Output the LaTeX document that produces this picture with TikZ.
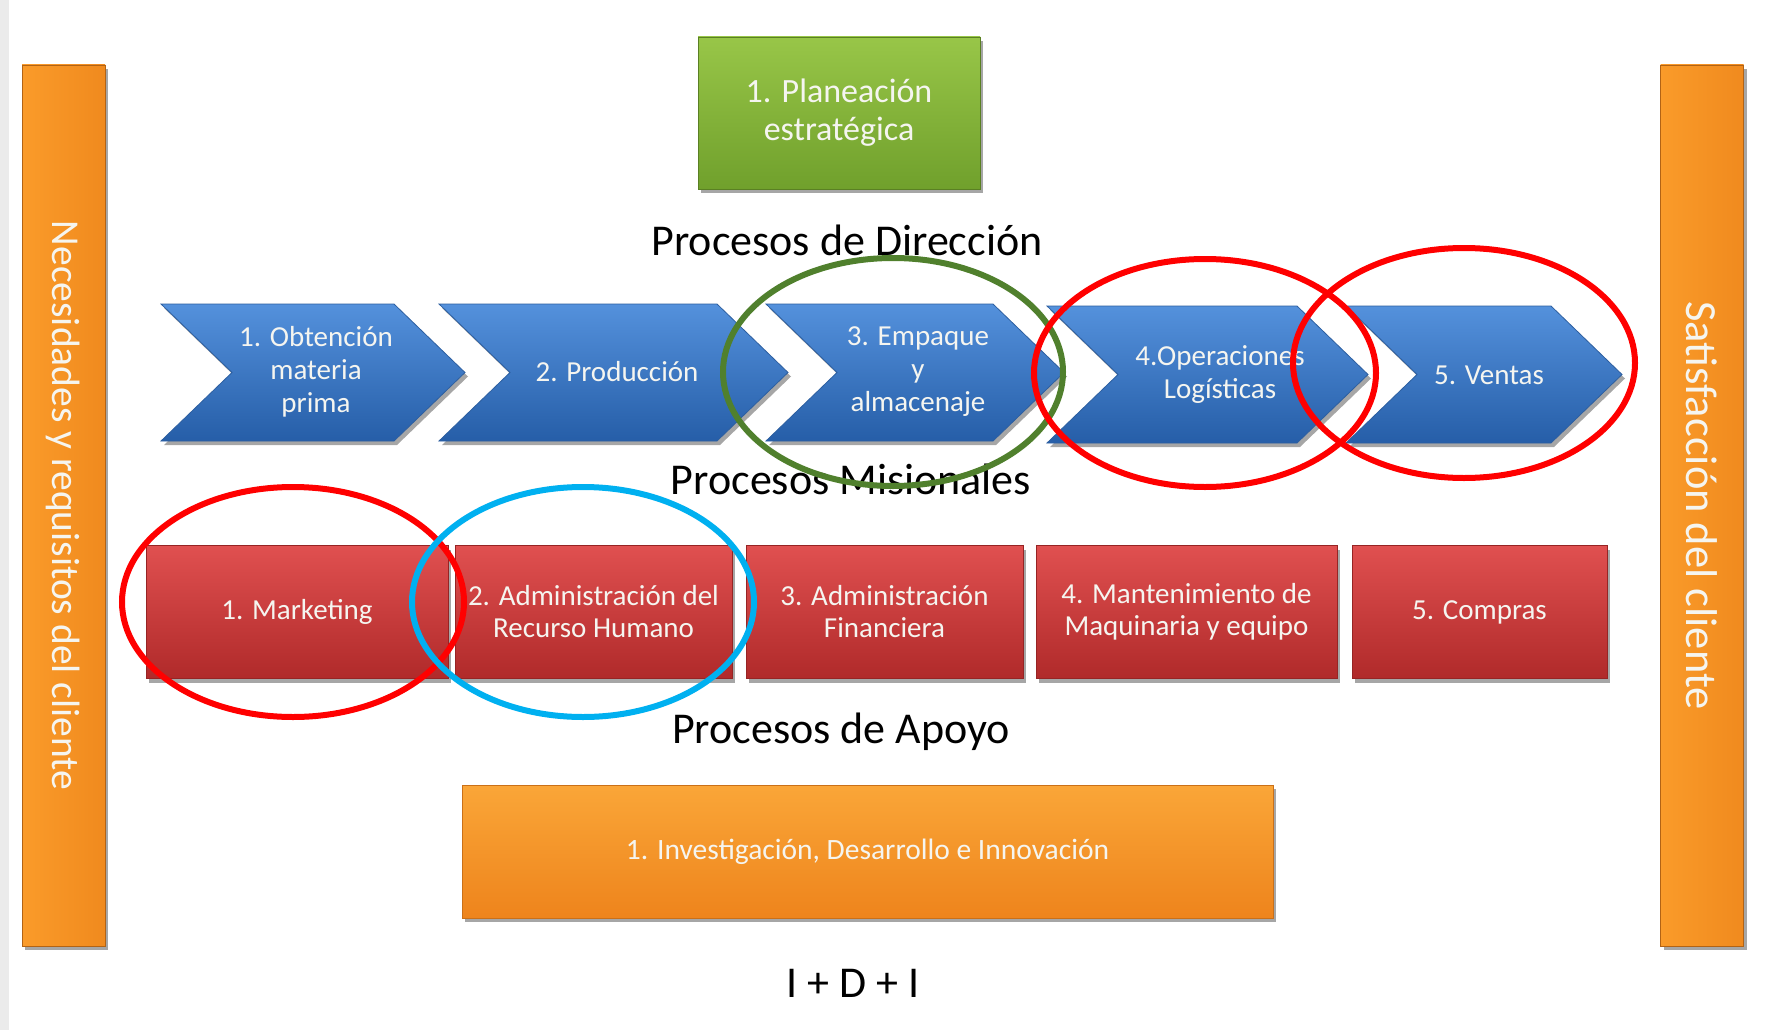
\documentclass[tikz,border=0pt]{standalone}
\usepackage{fontspec}
\setmainfont{Carlito}
\usetikzlibrary{shadows,calc}
\definecolor{chevtop}{RGB}{84,145,220}
\definecolor{chevbot}{RGB}{38,94,168}
\definecolor{chevline}{RGB}{45,95,160}
\definecolor{redtop}{RGB}{224,80,80}
\definecolor{redbot}{RGB}{176,42,42}
\definecolor{grntop}{RGB}{152,198,72}
\definecolor{grnbot}{RGB}{112,160,44}
\definecolor{orgtop}{RGB}{250,166,56}
\definecolor{orgbot}{RGB}{238,132,28}
\definecolor{sideleft}{RGB}{250,155,42}
\definecolor{sideright}{RGB}{240,138,30}
\definecolor{ringred}{RGB}{255,0,0}
\definecolor{ringgreen}{RGB}{80,128,45}
\definecolor{ringblue}{RGB}{0,176,240}
\definecolor{txtw}{RGB}{245,245,240}
\tikzset{
  shade/.style={drop shadow={shadow xshift=3pt,shadow yshift=-4pt,opacity=0.35,fill=black}},
  chevshape/.style={shade,top color=chevtop,bottom color=chevbot,draw=chevline,line width=0.8pt},
  chevtxt/.style={text=txtw,align=center,font=\fontsize{29}{33}\selectfont,inner sep=0pt},
  greenbox/.style={shade,top color=grntop,bottom color=grnbot,draw=grnbot!80!black,line width=0.8pt,
     text=txtw,align=center,font=\fontsize{34}{38}\selectfont,inner sep=0pt},
  redbox/.style={shade,top color=redtop,bottom color=redbot,draw=redbot!85!black,line width=0.8pt,
     text=txtw,align=center,font=\fontsize{29}{32}\selectfont,inner sep=0pt},
  orgbox/.style={shade,top color=orgtop,bottom color=orgbot,draw=orgbot!85!black,line width=0.8pt,
     text=txtw,align=center,font=\fontsize{29.5}{33}\selectfont,inner sep=0pt},
  sidebar/.style={shade,left color=sideleft,right color=sideright,draw=orgbot!75!black,line width=0.8pt,inner sep=0pt},
  sidetxt/.style={text=txtw,rotate=-90,inner sep=0pt},
  heading/.style={text=black,font=\fontsize{44}{50}\selectfont,inner sep=0pt},
  ring/.style={line width=6pt}
}
\begin{document}
\begin{tikzpicture}[x=1pt,y=-1pt]
\useasboundingbox (0,0) rectangle (1766,1030);
\fill[white] (0,0) rectangle (1766,1030);
\fill[black!8] (0,0) rectangle (9,1030);
% side bars
\node[sidebar,minimum width=83pt,minimum height=881pt] (lbar) at (63.5,505.5) {};
\node[sidetxt,font=\fontsize{39.5}{44}\selectfont] (ltxt) at (lbar.center) {Necesidades y requisitos del cliente};
\node[sidebar,minimum width=83pt,minimum height=881pt] (rbar) at (1702,505.5) {};
\node[sidetxt,font=\fontsize{44.5}{50}\selectfont] (rtxt) at (rbar.center) {Satisfacción del cliente};
% planning
\node[greenbox,minimum width=282pt,minimum height=152pt] (plan) at (839,113) {1. Planeación\\estratégica};
\node[heading] (hdir) at (847,240) {Procesos de Dirección};
% chevrons
\newcommand\chevpath[4]{%
  \path[chevshape] (#1,#3) -- ({#2-71},#3) -- (#2,{(#3+#4)/2}) -- ({#2-71},#4) -- (#1,#4) -- ({#1+71},{(#3+#4)/2}) -- cycle;}
\chevpath{161}{465}{304}{441}
\chevpath{439}{788}{304}{441}
\chevpath{766}{1064}{304}{441}
\chevpath{1047}{1368}{306}{443}
\chevpath{1346}{1622}{306}{443}
\node[chevtxt] (c1) at (316,372) {1. Obtención\\materia\\prima};
\node[chevtxt] (c2) at (617,372) {2. Producción};
\node[chevtxt] (c3) at (918,372) {3. Empaque\\y\\almacenaje};
\node[chevtxt] (c4) at (1220,375) {4.Operaciones\\Logísticas};
\node[chevtxt] (c5) at (1489,375) {5. Ventas};
\node[heading] (hmis) at (851,479) {Procesos Misionales};
% support boxes
\node[redbox,minimum width=302pt,minimum height=133pt] (r1) at (297,612) {1. Marketing};
\node[redbox,minimum width=277pt,minimum height=133pt] (r2) at (593.5,612) {2. Administración del\\Recurso Humano};
\node[redbox,minimum width=277pt,minimum height=133pt] (r3) at (884.5,612) {3. Administración\\Financiera};
\node[redbox,minimum width=301pt,minimum height=133pt] (r4) at (1186.5,612) {4. Mantenimiento de\\Maquinaria y equipo};
\node[redbox,minimum width=255pt,minimum height=133pt] (r5) at (1479.5,612) {5. Compras};
\node[heading] (hapo) at (841,732) {Procesos de Apoyo};
\node[orgbox,minimum width=811pt,minimum height=133pt] (idi) at (867.5,851.5) {1. Investigación, Desarrollo e Innovación};
\node[heading] (hidi) at (853,983) {I + D + I};
% rings
\draw[ring,ringgreen] (893,372) ellipse [x radius=170,y radius=114];
\draw[ring,ringred] (1205,373) ellipse [x radius=171,y radius=114];
\draw[ring,ringred] (1464,363) ellipse [x radius=171,y radius=115];
\draw[ring,ringred] (293,602) ellipse [x radius=171,y radius=115];
\draw[ring,ringblue] (583,602) ellipse [x radius=171,y radius=115];
\end{tikzpicture}
\end{document}
